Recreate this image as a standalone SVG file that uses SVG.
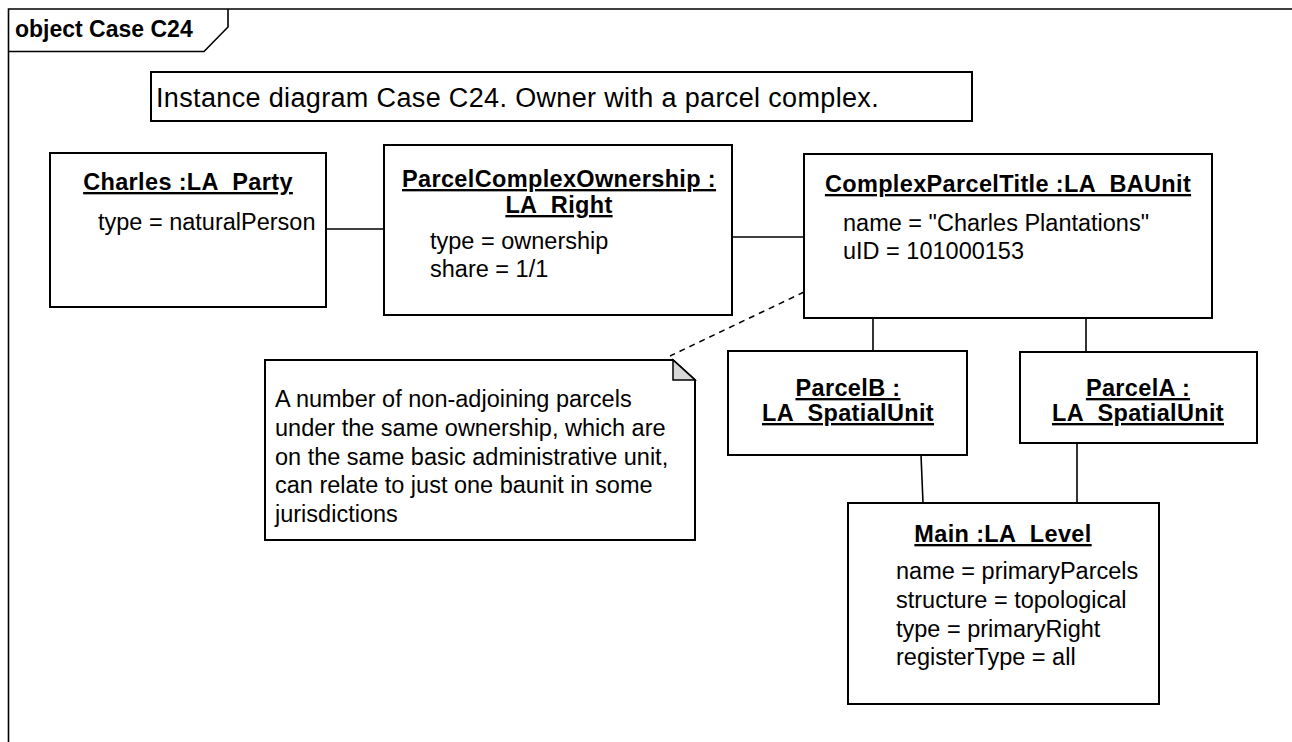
<svg xmlns="http://www.w3.org/2000/svg" width="1292" height="742" viewBox="0 0 1292 742">
<style>
.box{fill:#fff;stroke:#000;stroke-width:2}
.ln{fill:none;stroke:#000;stroke-width:1.6}
.dash{fill:none;stroke:#000;stroke-width:1.5;stroke-dasharray:6 5}
.t{font-family:"Liberation Sans",Arial,sans-serif;font-size:23.5px;fill:#000}
.b{font-family:"Liberation Sans",Arial,sans-serif;font-size:23.5px;font-weight:bold;fill:#000;text-decoration:underline;text-anchor:middle;letter-spacing:0.35px}
</style>
<rect width="1292" height="742" fill="#fff"/>
<g id="frame">
<path d="M8.5 742 V9 H1292" class="ln"/>
<path d="M8.5 51.5 H204 L228 27 V9" class="ln"/>
<text x="15" y="37" font-family="Liberation Sans,Arial,sans-serif" font-size="23" font-weight="bold">object Case C24</text>
</g>
<g id="title">
<rect x="151" y="72" width="821" height="49" class="box"/>
<text x="156" y="107" font-family="Liberation Sans,Arial,sans-serif" font-size="27" letter-spacing="0.35">Instance diagram Case C24. Owner with a parcel complex.</text>
</g>
<g id="connectors">
<line x1="326" y1="229" x2="384" y2="229" class="ln"/>
<line x1="732" y1="237" x2="804" y2="237" class="ln"/>
<line x1="873" y1="318" x2="873" y2="351" class="ln"/>
<line x1="1086" y1="318" x2="1086" y2="352" class="ln"/>
<line x1="921" y1="455" x2="923" y2="503" class="ln"/>
<line x1="1077" y1="443" x2="1077" y2="503" class="ln"/>
<line x1="804" y1="292" x2="670" y2="356" class="dash"/>
</g>
<g id="charles">
<rect x="50" y="153" width="276" height="154" class="box"/>
<text x="188" y="190" class="b">Charles :LA_Party</text>
<text x="98" y="230" class="t">type = naturalPerson</text>
</g>
<g id="ownership">
<rect x="384" y="145" width="348" height="170" class="box"/>
<text x="559" y="187" class="b">ParcelComplexOwnership :</text>
<text x="559" y="213" class="b">LA_Right</text>
<text x="430" y="249" class="t">type = ownership</text>
<text x="430" y="277" class="t">share = 1/1</text>
</g>
<g id="baunit">
<rect x="804" y="154" width="408" height="164" class="box"/>
<text x="1008" y="192" class="b">ComplexParcelTitle :LA_BAUnit</text>
<text x="843" y="231" class="t">name = "Charles Plantations"</text>
<text x="843" y="259" class="t">uID = 101000153</text>
</g>
<g id="note">
<path d="M265 360 H673 L695 380 V540 H265 Z" class="box"/>
<path d="M673 360 V380 H695 Z" fill="#d9d9d9" stroke="#000" stroke-width="1.5"/>
<text class="t" x="275">
<tspan x="275" y="407">A number of non-adjoining parcels</tspan>
<tspan x="275" y="436">under the same ownership, which are</tspan>
<tspan x="275" y="465">on the same basic administrative unit,</tspan>
<tspan x="275" y="493">can relate to just one baunit in some</tspan>
<tspan x="275" y="522">jurisdictions</tspan>
</text>
</g>
<g id="parcelB">
<rect x="728" y="351" width="239" height="104" class="box"/>
<text x="848" y="396" class="b">ParcelB :</text>
<text x="848" y="421" class="b">LA_SpatialUnit</text>
</g>
<g id="parcelA">
<rect x="1020" y="352" width="237" height="91" class="box"/>
<text x="1138" y="396" class="b">ParcelA :</text>
<text x="1138" y="421" class="b">LA_SpatialUnit</text>
</g>
<g id="level">
<rect x="848" y="503" width="311" height="201" class="box"/>
<text x="1003" y="542" class="b">Main :LA_Level</text>
<text x="896" y="579" class="t">name = primaryParcels</text>
<text x="896" y="608" class="t">structure = topological</text>
<text x="896" y="637" class="t">type = primaryRight</text>
<text x="896" y="665" class="t">registerType = all</text>
</g>
</svg>
